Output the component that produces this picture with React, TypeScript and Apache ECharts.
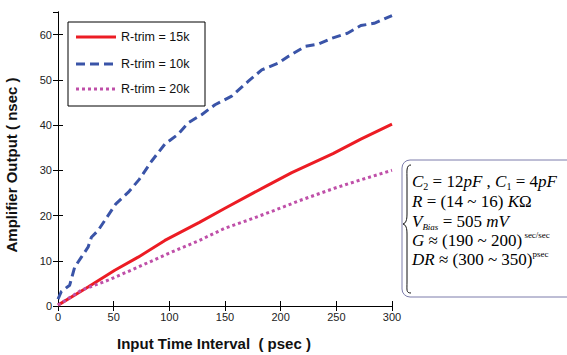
import React, { useEffect, useRef } from "react";
import * as echarts from "echarts";

const xTicks = [0, 50, 100, 150, 200, 250, 300];
const seriesNames = ["R-trim = 15k", "R-trim = 10k", "R-trim = 20k"];

const red15k: [number, number][] = [
  [0, 0.2], [27, 4.2], [51, 7.9], [72, 10.8], [96, 14.5], [127, 18.5], [150, 21.6],
  [171, 24.4], [187, 26.5], [210, 29.5], [247, 33.7], [272, 36.9], [300, 40.2],
];
const blue10k: [number, number][] = [
  [0, 1.5], [3, 3.2], [10.5, 4.6], [15, 8.6], [21, 10.8], [27, 13], [30, 15.2], [36, 16.7],
  [42, 18.9], [52, 22.6], [63, 25.1], [73, 28], [84, 32], [96, 35.8], [108, 38], [117, 40.5],
  [129, 42.3], [141, 44.5], [156, 46.4], [171, 49.7], [183, 52.2], [198, 53.7], [207, 55.2],
  [222, 57.4], [234, 57.9], [246, 59.2], [260, 60.3], [272, 62], [284, 62.5], [300, 64.2],
];
const magenta20k: [number, number][] = [
  [0, 0.2], [21, 3.5], [45, 5.7], [72, 8.6], [99, 11.6], [127, 14.5], [150, 17.2],
  [171, 19], [195, 21.2], [217, 23.3], [249, 26.1], [272, 27.9], [300, 30],
];

const seriesColors = ["#ec1c24", "#3a54a8", "#bf4fa8"];
const seriesDash: (number[] | "solid")[] = ["solid", [9, 5], [3, 3]];

const braceD =
  "M 411 165 C 406 165 407 171 407 179 L 407 214 C 407 220 406 223 403 224 C 406 225 407 228 407 234 L 407 282 C 407 290 406 293 411 293";

export default function App() {
  const ref = useRef<HTMLDivElement>(null);
  useEffect(() => {
    if (!ref.current) return;
    echarts.graphic.registerShape("brace", echarts.graphic.extendPath(braceD, {}) as any);
    const chart = echarts.init(ref.current, null, { renderer: "svg" });
    const labelFont = { fontFamily: "Liberation Sans", fontSize: 11, color: "#222" };
    const serif = "Liberation Serif";
    const fs = 17;
    const lh = 20;
    const rich = {
      n: { fontFamily: serif, fontSize: fs, color: "#111", lineHeight: lh },
      i: { fontFamily: serif, fontSize: fs, fontStyle: "italic", color: "#111", lineHeight: lh },
      sub: { fontFamily: serif, fontSize: 10, color: "#111", verticalAlign: "bottom", lineHeight: lh },
      subi: { fontFamily: serif, fontSize: 9, fontStyle: "italic", color: "#111", verticalAlign: "bottom", lineHeight: lh },
      sup: { fontFamily: serif, fontSize: 9, color: "#111", verticalAlign: "top", lineHeight: lh },
    };
    const lines = [
      "{i|C}{sub|2}{n| = 12}{i|pF}{n| , }{i|C}{sub|1}{n| = 4}{i|pF}",
      "{i|R}{n| = (14 ~ 16) }{i|K}{n|Ω}",
      "{i|V}{subi|Bias}{n| = 505 }{i|mV}",
      "{i|G}{n| ≈ (190 ~ 200)}{sup| sec/sec}",
      "{i|DR}{n| ≈ (300 ~ 350)}{sup|psec}",
    ];
    const lineYs = [181, 201, 221, 240, 259];
    const common = { min: 0, max: 300, interval: 50 };
    const ycommon = { min: 0, max: 65, interval: 10 };
    const legendYs = [37, 64, 89];
    const tickStyle = { show: true, inside: true, length: 5, lineStyle: { color: "#000" } };
    const lineAxis = { show: true, lineStyle: { color: "#000", width: 1 } };
    const legendEls: any[] = [];
    seriesNames.forEach((name, k) => {
      legendEls.push({
        type: "line",
        z: 11,
        shape: { x1: 76, y1: legendYs[k], x2: 116, y2: legendYs[k] },
        style: {
          stroke: seriesColors[k],
          lineWidth: 3,
          lineDash: seriesDash[k] === "solid" ? null : seriesDash[k],
        },
      });
      legendEls.push({
        type: "text",
        z: 11,
        x: 121,
        y: legendYs[k],
        style: {
          text: name,
          fontFamily: "Liberation Sans",
          fontSize: 12.5,
          fill: "#111",
          verticalAlign: "middle",
        },
      });
    });
    chart.setOption({
      animation: false,
      grid: { left: 58, right: 175, top: 12, bottom: 49 },
      xAxis: [
        {
          type: "value",
          ...common,
          position: "bottom",
          splitLine: { show: false },
          axisLine: lineAxis,
          axisTick: tickStyle,
          axisLabel: { ...labelFont, margin: 5, customValues: xTicks },
        },
        {
          type: "value",
          ...common,
          position: "top",
          splitLine: { show: false },
          axisLine: lineAxis,
          axisTick: tickStyle,
          axisLabel: { show: false },
        },
      ],
      yAxis: [
        {
          type: "value",
          ...ycommon,
          position: "left",
          splitLine: { show: false },
          axisLine: lineAxis,
          axisTick: tickStyle,
          axisLabel: { ...labelFont, margin: 6, showMaxLabel: false },
        },
        {
          type: "value",
          ...ycommon,
          position: "right",
          splitLine: { show: false },
          axisLine: lineAxis,
          axisTick: tickStyle,
          axisLabel: { show: false },
        },
      ],
      series: [red15k, blue10k, magenta20k].map((d, k) => ({
        name: seriesNames[k],
        type: "line",
        data: d,
        showSymbol: false,
        symbol: "none",
        itemStyle: { color: seriesColors[k] },
        lineStyle: { color: seriesColors[k], width: 3, type: seriesDash[k] },
      })),
      graphic: [
        {
          type: "rect",
          shape: { x: 68, y: 22, width: 137, height: 84 },
          style: { fill: "#fff", stroke: "#000", lineWidth: 1 },
          z: 10,
        },
        ...legendEls,
        {
          type: "text",
          left: 117,
          top: 336,
          style: {
            text: "Input Time Interval  ( psec )",
            fontFamily: "Liberation Sans",
            fontWeight: "bold",
            fontSize: 15,
            fill: "#111",
          },
        },
        {
          type: "text",
          x: 11,
          y: 165,
          rotation: Math.PI / 2,
          style: {
            text: "Amplifier Output ( nsec )",
            fontFamily: "Liberation Sans",
            fontWeight: "bold",
            fontSize: 15,
            fill: "#111",
            align: "center",
            verticalAlign: "middle",
          },
        },
        {
          type: "rect",
          shape: { x: 402, y: 160, width: 190, height: 137, r: 8 },
          style: { fill: "#fff", stroke: "#7c7cab", lineWidth: 1 },
        },
        {
          type: "brace",
          x: 0,
          y: 0,
          style: { fill: "none", stroke: "#111", lineWidth: 1 },
        },
        ...lines.map((t, k) => ({
          type: "text",
          x: 412,
          y: lineYs[k],
          style: { text: t, rich, verticalAlign: "middle", align: "left" },
        })),
      ],
    });
    return () => chart.dispose();
  }, []);
  return (
    <div
      ref={ref}
      style={{ position: "absolute", left: 0, top: 0, width: 567, height: 355, background: "#fff" }}
    />
  );
}
